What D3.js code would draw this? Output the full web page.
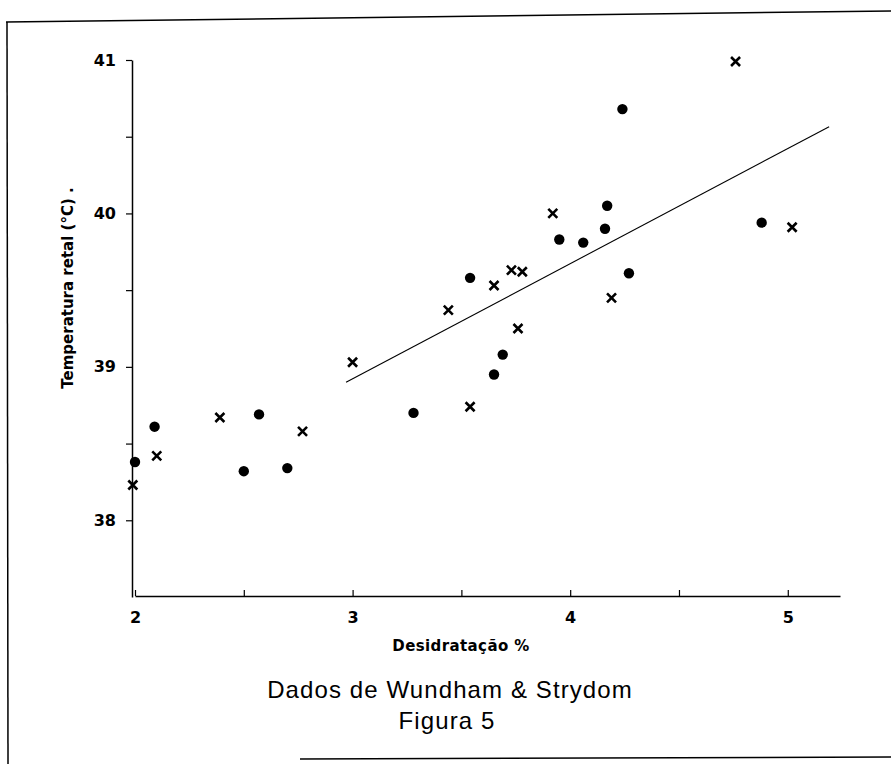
<!DOCTYPE html>
<html>
<head>
<meta charset="utf-8">
<script src="https://cdn.jsdelivr.net/npm/d3@7"></script>
<style>
  html, body { margin: 0; padding: 0; background: #fff; }
  svg { display: block; }
</style>
</head>
<body>
<svg id="chart" width="891" height="764"></svg>
<script>
// ---- data ----
const dotsX  = [2.00, 2.09, 2.50, 2.57, 2.70, 3.28, 3.54, 3.65, 3.69, 3.95, 4.06, 4.16, 4.17, 4.24, 4.27, 4.88];
const dotsY  = [38.38, 38.61, 38.32, 38.69, 38.34, 38.70, 39.58, 38.95, 39.08, 39.83, 39.81, 39.90, 40.05, 40.68, 39.61, 39.94];
const crossX = [1.99, 2.10, 2.39, 2.77, 3.00, 3.44, 3.54, 3.65, 3.73, 3.78, 3.76, 3.92, 4.19, 4.76, 5.02];
const crossY = [38.23, 38.42, 38.67, 38.58, 39.03, 39.37, 38.74, 39.53, 39.63, 39.62, 39.25, 40.00, 39.45, 40.99, 39.91];
const lineX  = [2.97, 5.19];
const lineY  = [38.90, 40.565];
const xTicks = [2, 2.5, 3, 3.5, 4, 4.5, 5];
const yTicks = [38, 38.5, 39, 39.5, 40, 40.5, 41];
const xTitle = "Desidratação %";
const yTitle = "Temperatura retal (°C) .";
const caption1 = "Dados de Wundham & Strydom";
const caption2 = "Figura 5";

const svg = d3.select("#chart");
const x = d3.scaleLinear().domain([2, 5.24]).range([135, 840]);
const y = d3.scaleLinear().domain([37.5, 41]).range([597, 60]);
const axisX0 = 132, axisY0 = 596;

// frame (scanned page border)
const frame = svg.append("g").attr("stroke", "#000").attr("stroke-width", 1.5).attr("fill", "none");
frame.append("line").attr("x1", 6).attr("x2", 891).attr("y1", 22).attr("y2", 11);
frame.append("line").attr("x1", 7).attr("x2", 8).attr("y1", 22).attr("y2", 764);
frame.append("line").attr("x1", 300).attr("x2", 891).attr("y1", 759).attr("y2", 757);

const fontB = "'DejaVu Sans', sans-serif";
const fontR = "'Liberation Sans', Arial, sans-serif";

// y axis
const yAxis = d3.axisLeft(y).tickValues(yTicks).tickSize(6).tickSizeOuter(0).tickPadding(10)
  .tickFormat(d => Number.isInteger(d) ? d3.format("d")(d) : "");
const gy = svg.append("g").attr("transform", `translate(${axisX0},0)`).call(yAxis);
gy.select(".domain").attr("stroke-width", 1.5);
gy.selectAll(".tick line").attr("stroke-width", 1.2);
gy.selectAll(".tick text").attr("font-family", fontB).attr("font-weight", "bold").attr("font-size", 16).attr("fill", "#000");

// x axis
const xAxis = d3.axisBottom(x).tickValues(xTicks).tickSizeInner(-6).tickSizeOuter(0).tickPadding(16)
  .tickFormat(d => Number.isInteger(d) ? d3.format("d")(d) : "");
const gx = svg.append("g").attr("transform", `translate(0,${axisY0})`).call(xAxis);
gx.select(".domain").attr("stroke-width", 1.5);
gx.selectAll(".tick line").attr("stroke-width", 1.2);
gx.selectAll(".tick text").attr("font-family", fontB).attr("font-weight", "bold").attr("font-size", 16).attr("fill", "#000");

// regression line
svg.append("path")
  .datum(d3.zip(lineX, lineY))
  .attr("d", d3.line().x(d => x(d[0])).y(d => y(d[1])))
  .attr("fill", "none").attr("stroke", "#000").attr("stroke-width", 1.1);

// dots
svg.append("g").selectAll("circle")
  .data(d3.zip(dotsX, dotsY))
  .join("circle")
  .attr("cx", d => x(d[0])).attr("cy", d => y(d[1])).attr("r", 5.2).attr("fill", "#000");

// crosses
const cs = 4.5;
svg.append("g").selectAll("path")
  .data(d3.zip(crossX, crossY))
  .join("path")
  .attr("d", d => {
    const cx = x(d[0]), cy = y(d[1]);
    return `M${cx - cs},${cy - cs}L${cx + cs},${cy + cs}M${cx + cs},${cy - cs}L${cx - cs},${cy + cs}`;
  })
  .attr("stroke", "#000").attr("stroke-width", 2.6).attr("fill", "none");

// titles
svg.append("text")
  .attr("transform", `translate(73,288) rotate(-90)`)
  .attr("text-anchor", "middle")
  .attr("font-family", fontB).attr("font-weight", "bold").attr("font-size", 15)
  .text(yTitle);

svg.append("text")
  .attr("x", 461).attr("y", 651).attr("text-anchor", "middle")
  .attr("font-family", fontB).attr("font-weight", "bold").attr("font-size", 15)
  .attr("letter-spacing", 0.4)
  .text(xTitle);

svg.append("text")
  .attr("x", 450).attr("y", 698).attr("text-anchor", "middle")
  .attr("font-family", fontR).attr("font-size", 24).attr("letter-spacing", 1.1)
  .text(caption1);
svg.append("text")
  .attr("x", 447).attr("y", 729).attr("text-anchor", "middle")
  .attr("font-family", fontR).attr("font-size", 24).attr("letter-spacing", 1.1)
  .text(caption2);
</script>
</body>
</html>
